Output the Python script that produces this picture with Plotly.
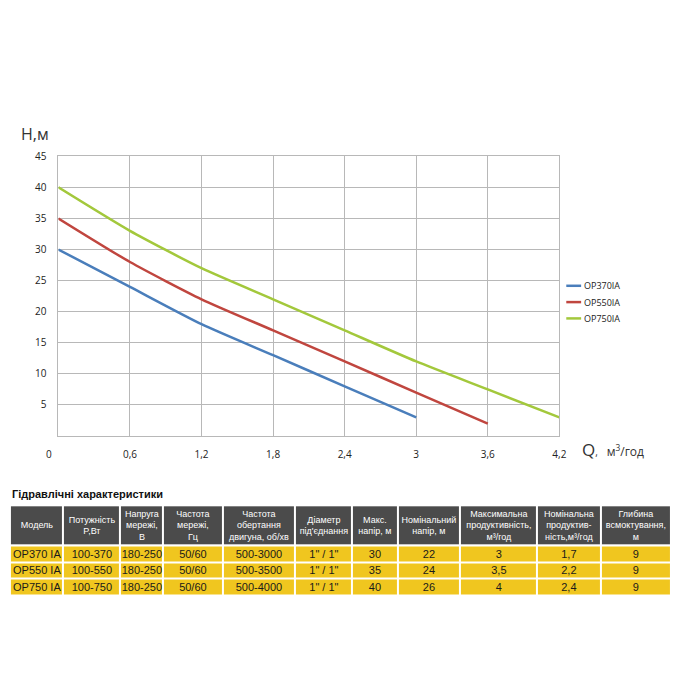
import plotly.graph_objects as go
from itertools import accumulate

# Pump curves H(Q)
q_370 = [0, 0.6, 1.2, 1.8, 2.4, 3.0]
h_370 = [30, 24, 18, 13, 8, 3]
q_550 = [0, 0.6, 1.2, 1.8, 2.4, 3.0, 3.6]
h_550 = [35, 28, 22, 17, 12, 7, 2]
q_750 = [0, 0.6, 1.2, 1.8, 2.4, 3.0, 3.6, 4.2]
h_750 = [40, 33, 27, 22, 17, 12, 7.5, 3]
series_names = ["OP370IA", "OP550IA", "OP750IA"]
series_colors = ["#4a7ebb", "#c0463f", "#a3c83c"]

x_tickvals = [0.6, 1.2, 1.8, 2.4, 3.0, 3.6, 4.2]
x_ticktext = ["0,6", "1,2", "1,8", "2,4", "3", "3,6", "4,2"]
y_tickvals = [5, 10, 15, 20, 25, 30, 35, 40, 45]

# Table data
tbl_header = [
    "Модель", "Потужність<br>P,Вт", "Напруга<br>мережі,<br>В", "Частота<br>мережі,<br>Гц",
    "Частота<br>обертання<br>двигуна, об/хв", "Діаметр<br>під'єднання", "Макс.<br>напір, м",
    "Номінальний<br>напір, м", "Максимальна<br>продуктивність,<br>м³/год",
    "Номінальна<br>продуктив-<br>ність,м³/год", "Глибина<br>всмоктування,<br>м",
]
models = ["OP370 IA", "OP550 IA", "OP750 IA"]
power = ["100-370", "100-550", "100-750"]
voltage = ["180-250", "180-250", "180-250"]
freq = ["50/60", "50/60", "50/60"]
rpm = ["500-3000", "500-3500", "500-4000"]
diam = ['1" / 1"'] * 3
max_head = ["30", "35", "40"]
nom_head = ["22", "24", "26"]
max_flow = ["3", "3,5", "4"]
nom_flow = ["1,7", "2,2", "2,4"]
suction = ["9", "9", "9"]
col_widths = [52, 56, 42, 58, 71, 56, 45, 60, 76, 62, 69]
row_height = 16.5
header_height = 40

W, H = 700, 700
GRID = "#b8b8b8"
TBL_FONT = "Liberation Sans, Arial"
HEAD_FILL = "#4b4b4b"
CELL_FILL = "#f0c61f"

fig = go.Figure()

for name, q, h, c in zip(series_names, [q_370, q_550, q_750], [h_370, h_550, h_750], series_colors):
    fig.add_trace(go.Scatter(x=q, y=h, mode="lines", name=name, showlegend=False,
                             line=dict(color=c, width=2.5, shape="spline", smoothing=0.6)))

# table drawn as two heatmaps on their own axes (header + body)
x_edges = [0] + list(accumulate(col_widths))
body_cols = [models, power, voltage, freq, rpm, diam, max_head, nom_head, max_flow, nom_flow, suction]
n_rows = len(models)
body_text = [[col[r] for col in body_cols] for r in range(n_rows)][::-1]   # bottom row first
body_edges = [i * row_height for i in range(n_rows + 1)]
head_edges = [body_edges[-1], body_edges[-1] + header_height]

fig.add_trace(go.Heatmap(
    x=x_edges, y=body_edges, z=[[1] * len(col_widths)] * n_rows,
    text=body_text, texttemplate="%{text}",
    textfont=dict(family=TBL_FONT, size=11, color="#1a1a1a"),
    colorscale=[[0, CELL_FILL], [1, CELL_FILL]], zmin=0, zmax=1, showscale=False,
    xgap=2, ygap=2, hoverinfo="skip", xaxis="x2", yaxis="y2",
))
fig.add_trace(go.Heatmap(
    x=x_edges, y=head_edges, z=[[0] * len(col_widths)],
    text=[tbl_header], texttemplate="%{text}",
    textfont=dict(family=TBL_FONT, size=9, color="white"),
    colorscale=[[0, HEAD_FILL], [1, HEAD_FILL]], zmin=0, zmax=1, showscale=False,
    xgap=2, ygap=2, hoverinfo="skip", xaxis="x2", yaxis="y2",
))

# hand-made legend (short line samples like the original)
shapes = []
annotations = []
for i, (name, c) in enumerate(zip(series_names, series_colors)):
    yy = 1 - (281 + i * 16.5) / H
    shapes.append(dict(type="line", xref="paper", yref="paper",
                       x0=572 / W, x1=587 / W, y0=yy, y1=yy,
                       line=dict(color=c, width=2.5)))
    annotations.append(dict(text=name, xref="paper", yref="paper", x=588 / W, y=yy,
                            showarrow=False, xanchor="left", yanchor="middle",
                            font=dict(size=9, color="#222")))

annotations += [
    dict(text="0", xref="x", yref="paper", x=0, y=1 - 451 / H, xshift=-9,
         showarrow=False, font=dict(size=10), xanchor="center", yanchor="middle"),
    dict(text="H,м", xref="paper", yref="paper", x=19 / W, y=1 - 127 / H,
         showarrow=False, font=dict(size=16, color="#333"), xanchor="left", yanchor="middle"),
    dict(text="Q<span style='font-size:10px'>,</span>  <span style='font-size:12px'>м<sup>3</sup>/год</span>",
         xref="paper", yref="paper", x=586 / W, y=1 - 447 / H,
         showarrow=False, font=dict(size=17, color="#333"), xanchor="left", yanchor="middle"),
    dict(text="<b>Гідравлічні характеристики</b>", xref="paper", yref="paper",
         x=10 / W, y=1 - 492 / H, showarrow=False,
         font=dict(size=11, color="#111", family="Liberation Sans, Arial"),
         xanchor="left", yanchor="middle"),
]

fig.update_layout(
    width=W, height=H,
    margin=dict(l=0, r=0, t=0, b=0),
    paper_bgcolor="white", plot_bgcolor="white",
    font=dict(family="Open Sans, DejaVu Sans", color="#222"),
    showlegend=False,
    xaxis=dict(
        domain=[59 / W, 565 / W], range=[0, 4.2],
        tickvals=x_tickvals, ticktext=x_ticktext,
        tickfont=dict(size=10),
        ticks="outside", ticklen=9, tickcolor="rgba(0,0,0,0)",
        showgrid=True, gridcolor=GRID, gridwidth=1,
        showline=True, linecolor=GRID, mirror=True, zeroline=False,
    ),
    yaxis=dict(
        domain=[1 - 433 / H, 1 - 150 / H], range=[0, 45],
        tickvals=y_tickvals,
        tickfont=dict(size=10),
        ticks="outside", ticklen=9, tickcolor="rgba(0,0,0,0)",
        showgrid=True, gridcolor=GRID, gridwidth=1,
        showline=True, linecolor=GRID, mirror=True, zeroline=False,
    ),
    xaxis2=dict(domain=[10 / W, 678 / W], range=[x_edges[0], x_edges[-1]],
                visible=False, fixedrange=True, anchor="y2"),
    yaxis2=dict(domain=[1 - 594 / H, 1 - 503 / H], range=[0, head_edges[-1]],
                visible=False, fixedrange=True, anchor="x2"),
    shapes=shapes,
    annotations=annotations,
)

fig.write_html("out.html", config={"displayModeBar": False},
               post_script="document.body.style.margin='0';")
